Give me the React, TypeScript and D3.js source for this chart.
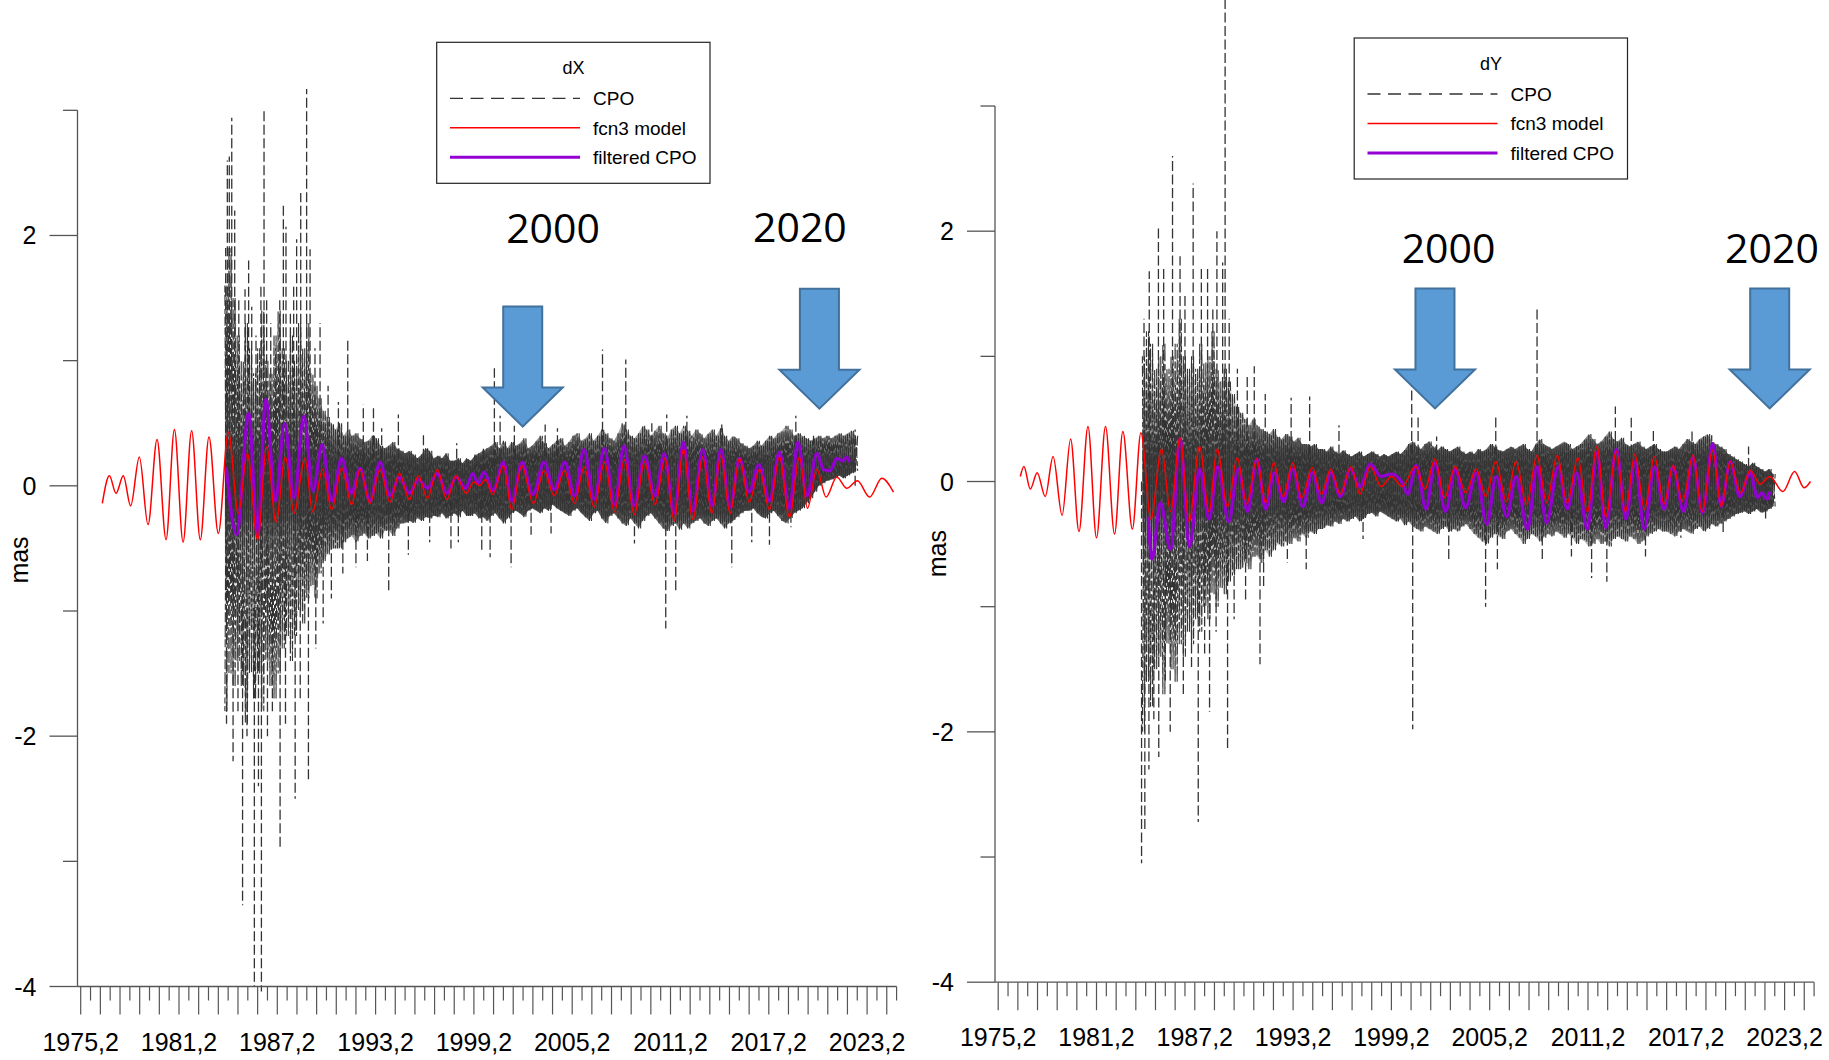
import React from "react";
import * as d3 from "d3";

type Pt = [number, number];

// ---- axis definitions ----
const TICK_START = 1975.2;
const TICK_STEP = 0.6;
const TICK_COUNT = 84;
const xLabelYears = [1975.2, 1981.2, 1987.2, 1993.2, 1999.2, 2005.2, 2011.2, 2017.2, 2023.2];
const yMajorTicks = [-4, -2, 0, 2];
const yMinorTicks = [-3, -1, 1, 3];

// ---- CPO envelope (quarter-year bins from 1984.0) ----
const CPO_START = 1984.0;
const CPO_STEP = 0.25;

const dxUpper = [
  1.6, 1.9, 1.5, 1.2, 1.0, 1.3, 1.1, 0.9, 1.1, 1.4, 1.0, 0.9, 1.2, 1.4, 1.1, 1.0,
  1.2, 1.0, 1.3, 1.1, 1.3, 0.9, 0.8, 0.7, 0.6, 0.55, 0.5, 0.45, 0.5, 0.4, 0.45, 0.4,
  0.42, 0.38, 0.35, 0.36, 0.4, 0.38, 0.32, 0.3, 0.32, 0.35, 0.3, 0.28, 0.26, 0.28, 0.25, 0.22,
  0.25, 0.3, 0.28, 0.22, 0.24, 0.22, 0.26, 0.2, 0.2, 0.22, 0.18, 0.22, 0.2, 0.24, 0.26, 0.28,
  0.3, 0.32, 0.35, 0.3, 0.36, 0.3, 0.35, 0.32, 0.34, 0.38, 0.3, 0.32, 0.36, 0.4, 0.34, 0.3,
  0.33, 0.36, 0.38, 0.32, 0.35, 0.4, 0.42, 0.36, 0.38, 0.42, 0.36, 0.4, 0.45, 0.42, 0.38, 0.36,
  0.42, 0.5, 0.45, 0.4, 0.38, 0.42, 0.48, 0.45, 0.4, 0.44, 0.48, 0.42, 0.38, 0.45, 0.48, 0.42,
  0.48, 0.44, 0.4, 0.45, 0.42, 0.38, 0.42, 0.45, 0.4, 0.46, 0.4, 0.36, 0.4, 0.38, 0.34, 0.32,
  0.3, 0.32, 0.36, 0.32, 0.36, 0.4, 0.38, 0.42, 0.44, 0.48, 0.45, 0.4, 0.42, 0.4, 0.38, 0.36,
  0.38, 0.4, 0.38, 0.4, 0.38, 0.4, 0.42, 0.4, 0.42, 0.44, 0.4,
];
const dxLower = [
  -1.8, -1.5, -1.6, -1.4, -1.6, -1.9, -1.5, -1.7, -1.5, -1.8, -1.4, -1.6, -1.7, -1.5, -1.3, -1.2,
  -1.4, -1.2, -1.0, -1.1, -0.9, -0.8, -0.9, -0.7, -0.6, -0.55, -0.5, -0.5, -0.5, -0.45, -0.42, -0.4,
  -0.45, -0.4, -0.38, -0.42, -0.4, -0.38, -0.42, -0.36, -0.35, -0.4, -0.34, -0.3, -0.3, -0.28, -0.3, -0.26,
  -0.28, -0.25, -0.26, -0.24, -0.25, -0.22, -0.26, -0.24, -0.22, -0.25, -0.2, -0.24, -0.24, -0.22, -0.26, -0.25,
  -0.28, -0.24, -0.22, -0.26, -0.3, -0.26, -0.22, -0.2, -0.22, -0.25, -0.2, -0.18, -0.2, -0.22, -0.18, -0.2,
  -0.15, -0.18, -0.2, -0.22, -0.24, -0.2, -0.18, -0.22, -0.25, -0.28, -0.22, -0.2, -0.26, -0.3, -0.24, -0.22,
  -0.26, -0.3, -0.32, -0.26, -0.3, -0.34, -0.28, -0.24, -0.22, -0.26, -0.3, -0.34, -0.36, -0.32, -0.3, -0.35,
  -0.3, -0.34, -0.3, -0.28, -0.26, -0.3, -0.32, -0.28, -0.26, -0.3, -0.34, -0.3, -0.28, -0.25, -0.22, -0.2,
  -0.2, -0.18, -0.22, -0.25, -0.26, -0.22, -0.2, -0.24, -0.28, -0.3, -0.26, -0.22, -0.2, -0.18, -0.14, -0.1,
  -0.05, 0.0, 0.02, 0.04, 0.05, 0.06, 0.08, 0.06, 0.08, 0.1, 0.12,
];
const dxSpikes: Pt[] = [
  [1984.05, 1.9], [1984.1, -1.9], [1984.15, 2.6], [1984.27, 2.63], [1984.42, 2.94], [1984.5, -2.2],
  [1984.6, 2.2], [1984.8, -1.8], [1984.85, 1.5], [1985.08, -3.35], [1985.23, 1.57], [1985.35, -2.0],
  [1985.45, 1.8], [1985.64, 1.43], [1985.8, -4.0], [1985.9, 1.2], [1986.05, -2.4], [1986.2, 1.6],
  [1986.23, -4.04], [1986.39, 3.02], [1986.55, 1.49], [1986.6, -2.0], [1986.8, 1.3], [1986.9, -1.8],
  [1987.1, 1.1], [1987.35, 1.5], [1987.37, -2.9], [1987.57, 2.26], [1987.7, -1.9], [1987.73, 2.07],
  [1988.0, 1.4], [1988.2, 1.6], [1988.29, -2.5], [1988.38, 1.97], [1988.6, -1.7], [1988.63, 2.34],
  [1988.99, 3.17], [1989.1, -2.35], [1989.2, 1.89], [1989.5, 1.1], [1989.55, -1.3], [1989.81, 1.3],
  [1990.0, -1.1], [1990.3, 0.8], [1990.5, -0.9], [1990.93, 0.67], [1991.2, -0.7], [1991.5, 1.18],
  [1992.0, -0.65], [1992.45, 0.65], [1992.7, -0.6], [1993.07, 0.62], [1993.57, 0.46], [1994.0, -0.85],
  [1994.59, 0.57], [1995.2, -0.55], [1996.12, 0.43], [1996.5, -0.45], [1997.8, -0.5], [1998.15, 0.34],
  [1998.25, -0.45], [1999.27, 0.25], [1999.68, -0.51], [1999.78, 0.31], [2000.19, -0.57], [2000.45, 0.94],
  [2000.8, 0.56], [2001.47, -0.65], [2001.67, 0.48], [2002.69, -0.39], [2003.55, 0.49], [2003.91, -0.38],
  [2004.3, 0.46], [2007.05, 1.09], [2008.47, 1.01], [2009.0, -0.46], [2010.06, 0.5], [2010.91, -1.14],
  [2010.97, 0.57], [2011.52, -0.86], [2012.2, 0.56], [2014.33, 0.49], [2014.94, -0.65], [2016.16, -0.45],
  [2017.24, -0.47], [2018.55, -0.33], [2018.85, 0.56], [2019.93, 0.4], [2022.47, 0.45],
];

// fcn3 model, dX: successive extrema (year, mas)
const dxModel: Pt[] = [
  [1976.52, -0.14], [1976.95, 0.08], [1977.36, -0.06], [1977.8, 0.08], [1978.25, -0.16], [1978.78, 0.23],
  [1979.31, -0.31], [1979.86, 0.37], [1980.41, -0.43], [1980.92, 0.45], [1981.45, -0.45], [1981.97, 0.44],
  [1982.5, -0.43], [1983.03, 0.39], [1983.6, -0.38], [1984.21, 0.43], [1984.82, -0.22], [1985.37, 0.26],
  [1986.0, -0.43], [1986.55, 0.31], [1987.12, -0.29], [1987.69, 0.23], [1988.22, -0.22], [1988.89, 0.22],
  [1989.36, -0.21], [1989.97, 0.13], [1990.52, -0.19], [1991.13, 0.14], [1991.74, -0.15], [1992.25, 0.13],
  [1992.86, -0.14], [1993.47, 0.13], [1994.08, -0.13], [1994.65, 0.1], [1995.26, -0.11], [1995.81, 0.08],
  [1996.36, -0.1], [1996.97, 0.13], [1997.54, -0.11], [1998.11, 0.08], [1998.72, -0.06], [1999.2, 0.03],
  [1999.55, 0.0], [1999.9, 0.05], [2000.35, -0.07], [2001.0, 0.16], [2001.51, -0.19], [2002.12, 0.16],
  [2002.83, -0.14], [2003.48, 0.12], [2004.1, -0.08], [2004.73, 0.12], [2005.34, -0.14], [2005.93, 0.15],
  [2006.54, -0.17], [2007.17, 0.19], [2007.78, -0.21], [2008.39, 0.21], [2008.98, -0.23], [2009.61, 0.19],
  [2010.26, -0.15], [2010.87, 0.22], [2011.42, -0.28], [2011.99, 0.29], [2012.56, -0.27], [2013.17, 0.23],
  [2013.72, -0.22], [2014.27, 0.24], [2014.84, -0.22], [2015.41, 0.22], [2016.0, -0.13], [2016.63, 0.13],
  [2017.24, -0.19], [2017.85, 0.23], [2018.46, -0.25], [2019.07, 0.23], [2019.56, -0.18], [2020.13, 0.13],
  [2020.7, -0.09], [2021.35, 0.07], [2021.96, -0.02], [2022.61, 0.04], [2023.35, -0.09], [2024.1, 0.06],
  [2024.81, -0.05],
];

// filtered CPO, dX
const dxFiltered: Pt[] = [
  [1984.08, 0.15], [1984.72, -0.39], [1985.45, 0.58], [1986.0, -0.4], [1986.5, 0.69], [1987.08, -0.12],
  [1987.65, 0.5], [1988.22, -0.1], [1988.82, 0.56], [1989.38, -0.04], [1989.93, 0.33], [1990.52, -0.12],
  [1991.13, 0.22], [1991.72, -0.06], [1992.25, 0.14], [1992.86, -0.12], [1993.47, 0.19], [1994.08, -0.08],
  [1994.65, 0.07], [1995.26, -0.06], [1995.81, 0.05], [1996.38, -0.02], [1996.97, 0.1], [1997.55, -0.06],
  [1998.13, 0.07], [1998.7, -0.02], [1999.12, 0.1], [1999.45, 0.02], [1999.82, 0.11], [2000.37, -0.04],
  [2001.0, 0.19], [2001.52, -0.12], [2002.14, 0.19], [2002.8, -0.07], [2003.48, 0.19], [2004.1, -0.03],
  [2004.76, 0.19], [2005.34, -0.08], [2005.92, 0.29], [2006.55, -0.11], [2007.16, 0.3], [2007.78, -0.15],
  [2008.36, 0.32], [2008.98, -0.16], [2009.61, 0.24], [2010.26, -0.08], [2010.82, 0.26], [2011.42, -0.22],
  [2011.99, 0.35], [2012.56, -0.2], [2013.17, 0.29], [2013.73, -0.16], [2014.27, 0.29], [2014.84, -0.17],
  [2015.41, 0.22], [2016.0, -0.05], [2016.6, 0.17], [2017.24, -0.12], [2017.85, 0.27], [2018.46, -0.18],
  [2018.97, 0.35], [2019.54, -0.08], [2020.13, 0.26], [2020.55, 0.13], [2020.95, 0.12], [2021.35, 0.22],
  [2021.7, 0.2], [2021.96, 0.23], [2022.12, 0.19],
];

const dyUpper = [
  1.0, 1.2, 1.1, 0.9, 1.0, 1.1, 0.9, 1.0, 1.1, 1.3, 1.0, 0.9, 1.0, 0.9, 1.1, 0.95,
  1.0, 1.2, 0.9, 0.8, 0.9, 0.8, 0.7, 0.6, 0.55, 0.5, 0.45, 0.5, 0.45, 0.42, 0.4, 0.38,
  0.42, 0.36, 0.34, 0.38, 0.36, 0.32, 0.35, 0.3, 0.3, 0.28, 0.3, 0.26, 0.26, 0.24, 0.28, 0.24,
  0.22, 0.25, 0.22, 0.2, 0.22, 0.24, 0.2, 0.22, 0.24, 0.22, 0.2, 0.22, 0.2, 0.22, 0.24, 0.22,
  0.25, 0.3, 0.32, 0.28, 0.26, 0.3, 0.32, 0.28, 0.25, 0.28, 0.26, 0.24, 0.26, 0.28, 0.24, 0.22,
  0.24, 0.22, 0.26, 0.24, 0.26, 0.3, 0.28, 0.25, 0.24, 0.26, 0.28, 0.26, 0.28, 0.3, 0.26, 0.24,
  0.3, 0.34, 0.3, 0.28, 0.26, 0.28, 0.3, 0.32, 0.3, 0.26, 0.28, 0.3, 0.34, 0.38, 0.34, 0.3,
  0.32, 0.36, 0.4, 0.34, 0.32, 0.35, 0.3, 0.28, 0.3, 0.32, 0.28, 0.26, 0.28, 0.3, 0.26, 0.24,
  0.24, 0.26, 0.28, 0.26, 0.3, 0.34, 0.32, 0.3, 0.34, 0.36, 0.38, 0.32, 0.3, 0.28, 0.26, 0.22,
  0.2, 0.18, 0.16, 0.14, 0.12, 0.15, 0.12, 0.1, 0.08, 0.1, 0.06,
];
const dyLower = [
  -2.0, -1.6, -1.8, -1.5, -1.4, -1.7, -1.3, -1.5, -1.6, -1.3, -1.4, -1.2, -1.3, -1.1, -1.2, -1.0,
  -1.1, -0.9, -1.0, -0.85, -0.9, -0.8, -0.75, -0.7, -0.7, -0.65, -0.7, -0.6, -0.6, -0.65, -0.55, -0.6,
  -0.55, -0.5, -0.52, -0.48, -0.5, -0.45, -0.48, -0.42, -0.45, -0.4, -0.42, -0.38, -0.38, -0.35, -0.36, -0.32,
  -0.34, -0.3, -0.32, -0.3, -0.28, -0.32, -0.3, -0.26, -0.25, -0.28, -0.24, -0.26, -0.28, -0.3, -0.32, -0.3,
  -0.35, -0.32, -0.36, -0.38, -0.4, -0.36, -0.38, -0.4, -0.42, -0.38, -0.36, -0.4, -0.38, -0.4, -0.36, -0.34,
  -0.38, -0.42, -0.45, -0.48, -0.5, -0.45, -0.42, -0.44, -0.46, -0.4, -0.38, -0.42, -0.45, -0.5, -0.46, -0.42,
  -0.44, -0.48, -0.45, -0.42, -0.44, -0.4, -0.42, -0.45, -0.42, -0.45, -0.5, -0.46, -0.48, -0.52, -0.5, -0.46,
  -0.5, -0.48, -0.52, -0.46, -0.44, -0.46, -0.48, -0.44, -0.46, -0.5, -0.48, -0.44, -0.42, -0.4, -0.38, -0.4,
  -0.4, -0.42, -0.44, -0.4, -0.38, -0.4, -0.42, -0.38, -0.36, -0.4, -0.38, -0.34, -0.36, -0.34, -0.32, -0.3,
  -0.28, -0.26, -0.25, -0.24, -0.26, -0.24, -0.22, -0.25, -0.24, -0.22, -0.2,
];
const dySpikes: Pt[] = [
  [1983.95, -3.05], [1984.1, 1.3], [1984.15, -2.8], [1984.4, -2.3], [1984.42, 1.68], [1984.7, -1.9],
  [1984.98, 2.03], [1985.0, -2.2], [1985.3, 1.7], [1985.4, -1.6], [1985.7, -2.0], [1985.84, 2.6],
  [1986.0, -1.3], [1986.3, 1.8], [1986.5, -1.7], [1986.6, 1.5], [1987.0, -1.5], [1987.1, 2.38],
  [1987.41, -2.72], [1987.6, 1.7], [1987.8, -1.4], [1987.98, 1.7], [1988.1, -1.84], [1988.3, 1.4],
  [1988.5, -1.2], [1988.55, 2.0], [1988.9, 1.75], [1989.05, 3.85], [1989.2, -2.15], [1989.3, 1.3],
  [1989.6, -1.1], [1989.8, 0.9], [1990.3, -0.95], [1990.4, 0.85], [1990.83, 0.92], [1991.18, -1.46],
  [1991.4, -0.86], [1991.5, 0.7], [1992.85, -0.65], [1993.08, 0.67], [1994.0, -0.7], [1994.21, 0.68],
  [1996.0, 0.45], [1997.47, -0.46], [2000.44, 0.79], [2000.5, -1.98], [2000.83, 0.52], [2001.96, 0.36],
  [2002.7, -0.64], [2004.95, -1.0], [2005.57, 0.54], [2005.67, -0.7], [2008.09, 1.38], [2008.41, -0.62],
  [2010.19, -0.6], [2011.42, -0.77], [2012.35, -0.8], [2012.87, 0.6], [2013.84, 0.51], [2014.71, -0.6],
  [2015.19, 0.43], [2016.87, -0.45], [2017.55, 0.4], [2018.75, 0.37], [2019.45, -0.41], [2021.0, 0.28],
  [2022.04, -0.32],
];

// fcn3 model, dY
const dyModel: Pt[] = [
  [1976.55, 0.04], [1976.77, 0.12], [1977.16, -0.06], [1977.58, 0.07], [1978.07, -0.12], [1978.55, 0.2],
  [1979.1, -0.27], [1979.62, 0.34], [1980.13, -0.4], [1980.68, 0.44], [1981.2, -0.45], [1981.75, 0.44],
  [1982.3, -0.42], [1982.81, 0.4], [1983.39, -0.38], [1983.91, 0.39], [1984.52, -0.3], [1985.17, 0.26],
  [1985.72, -0.24], [1986.3, 0.35], [1986.85, -0.32], [1987.49, 0.28], [1988.07, -0.24], [1988.56, 0.26],
  [1989.2, -0.2], [1989.79, 0.19], [1990.37, -0.18], [1990.98, 0.18], [1991.53, -0.17], [1992.01, 0.15],
  [1992.59, -0.12], [1993.18, 0.15], [1993.72, -0.13], [1994.37, 0.11], [1994.92, -0.1], [1995.5, 0.1],
  [1996.08, -0.1], [1996.73, 0.12], [1997.28, -0.1], [1997.92, 0.12], [1998.57, -0.04], [1999.21, 0.04],
  [1999.86, -0.04], [2000.67, 0.12], [2001.25, -0.06], [2001.86, 0.18], [2002.44, -0.13], [2003.09, 0.12],
  [2003.73, -0.09], [2004.38, 0.1], [2004.96, -0.12], [2005.57, 0.16], [2006.22, -0.16], [2006.8, 0.16],
  [2007.45, -0.18], [2008.09, 0.21], [2008.67, -0.17], [2009.32, 0.21], [2009.93, -0.17], [2010.58, 0.19],
  [2011.16, -0.24], [2011.74, 0.28], [2012.29, -0.28], [2012.93, 0.24], [2013.48, -0.24], [2014.06, 0.22],
  [2014.64, -0.22], [2015.26, 0.2], [2015.84, -0.18], [2016.39, 0.13], [2016.97, -0.16], [2017.61, 0.21],
  [2018.16, -0.24], [2018.81, 0.25], [2019.33, -0.2], [2019.88, 0.16], [2020.52, -0.09], [2021.1, 0.09],
  [2021.71, -0.02], [2022.3, 0.04], [2023.1, -0.08], [2023.81, 0.08], [2024.39, -0.05], [2024.78, 0.0],
];

// filtered CPO, dY
const dyFiltered: Pt[] = [
  [1984.36, -0.28], [1984.59, -0.62], [1985.1, -0.17], [1985.72, -0.54], [1986.3, 0.34], [1986.88, -0.52],
  [1987.49, 0.1], [1988.07, -0.3], [1988.6, 0.12], [1989.27, -0.32], [1989.85, 0.1], [1990.43, -0.24],
  [1990.98, 0.18], [1991.53, -0.22], [1992.05, 0.07], [1992.62, -0.16], [1993.18, 0.1], [1993.79, -0.2],
  [1994.37, 0.07], [1994.95, -0.17], [1995.5, 0.07], [1996.08, -0.12], [1996.7, 0.1], [1997.28, -0.04],
  [1997.92, 0.14], [1998.57, 0.04], [1999.21, 0.06], [1999.86, -0.01], [2000.2, -0.1], [2000.72, 0.13],
  [2001.31, -0.22], [2001.86, 0.15], [2002.51, -0.24], [2003.09, 0.1], [2003.73, -0.21], [2004.38, 0.07],
  [2005.02, -0.34], [2005.6, 0.04], [2006.25, -0.28], [2006.8, 0.04], [2007.51, -0.38], [2008.09, 0.12],
  [2008.67, -0.33], [2009.38, 0.12], [2009.93, -0.22], [2010.51, 0.07], [2011.16, -0.38], [2011.74, 0.23],
  [2012.29, -0.37], [2012.93, 0.26], [2013.51, -0.3], [2014.06, 0.16], [2014.64, -0.38], [2015.26, 0.12],
  [2015.84, -0.22], [2016.39, 0.12], [2017.03, -0.24], [2017.61, 0.19], [2018.19, -0.25], [2018.81, 0.3],
  [2019.33, -0.2], [2019.88, 0.16], [2020.46, -0.12], [2021.1, 0.07], [2021.55, -0.13], [2021.81, -0.09],
  [2022.13, -0.14], [2022.3, -0.08],
];

// ---- styling ----
const CPO_COLOR = "#333333";
const MODEL_COLOR = "#ff0000";
const FILTER_COLOR = "#9400d3";
const AXIS_COLOR = "#555555";
const ARROW_FILL = "#5b9bd5";
const ARROW_STROKE = "#41719c";
const FONT = "'Liberation Sans', Arial, Helvetica, sans-serif";
const CPO_DASH_A = "7,2.3,11,3.1,5,2.7,9,2.2";
const CPO_DASH_B = "10,2.6,6,3.3,8,2.1,12,2.9";

// panel scales (both panels share the same frame)
const x = d3
  .scaleLinear()
  .domain([TICK_START, TICK_START + TICK_STEP * (TICK_COUNT - 1)])
  .range([80.7, 80.7 + 9.83 * (TICK_COUNT - 1)]);
const y = d3.scaleLinear().domain([-4, 3]).range([986.5, 986.5 - 7 * 125.17]);
const AXIS_X = 77.5;

const lineGen = d3
  .line<Pt>()
  .x((d) => x(d[0]))
  .y((d) => y(d[1]));
const smoothGen = d3
  .line<Pt>()
  .x((d) => x(d[0]))
  .y((d) => y(d[1]))
  .curve(d3.curveMonotoneX);

type Band = { t: number; hi: number; lo: number };

interface Note {
  text: string;
  at: Pt; // label centre/baseline in data units
  tip: Pt; // arrow tip in data units
}

interface PanelProps {
  title: string;
  upper: number[];
  lower: number[];
  spikes: Pt[];
  model: Pt[];
  filtered: Pt[];
  notes: Note[];
  masY: number;
}

function Arrow({ tip }: { tip: Pt }) {
  const tx = x(tip[0]);
  const ty = y(tip[1]);
  const pts: Pt[] = [
    [tx - 19.5, ty - 120],
    [tx + 19.5, ty - 120],
    [tx + 19.5, ty - 39],
    [tx + 40, ty - 39],
    [tx, ty],
    [tx - 40, ty - 39],
    [tx - 19.5, ty - 39],
  ];
  return (
    <polygon
      points={pts.map((p) => p.join(",")).join(" ")}
      fill={ARROW_FILL}
      stroke={ARROW_STROKE}
      strokeWidth={2}
    />
  );
}

function Panel({ title, upper, lower, spikes, model, filtered, notes, masY }: PanelProps) {
  const band: Band[] = upper.map((u, i) => ({ t: CPO_START + i * CPO_STEP, hi: u, lo: lower[i] }));
  const areaGen = d3
    .area<Band>()
    .x((d) => x(d.t))
    .y0((d) => y(d.lo))
    .y1((d) => y(d.hi));
  // two interleaved traverses of each bin: top-to-bottom and bottom-to-top
  const zigDown: Pt[] = band.flatMap((b) => [
    [b.t, b.hi] as Pt,
    [b.t + CPO_STEP / 2, b.lo] as Pt,
  ]);
  const zigUp: Pt[] = band.flatMap((b) => [
    [b.t, b.lo] as Pt,
    [b.t + CPO_STEP / 2, b.hi] as Pt,
  ]);

  const ticks = d3.range(TICK_COUNT).map((k) => ({ v: TICK_START + k * TICK_STEP, long: k % 2 === 0 }));
  const y0 = y(-4);

  // legend geometry
  const lx = 436.7;
  const ly = 42.3;
  const rows = [
    { label: "CPO", color: CPO_COLOR, width: 1.3, dash: "13,7.5" },
    { label: "fcn3 model", color: MODEL_COLOR, width: 1.4, dash: undefined },
    { label: "filtered CPO", color: FILTER_COLOR, width: 3, dash: undefined },
  ];

  return (
    <g fontFamily={FONT}>
      {/* CPO series: dark core, dashed traverses between the envelope values and isolated outliers */}
      <path d={areaGen(band) ?? ""} fill="url(#coreGrad)" />
      <path d={lineGen(zigDown) ?? ""} fill="none" stroke={CPO_COLOR} strokeWidth={1.1} strokeDasharray={CPO_DASH_A} />
      <path
        d={lineGen(zigUp) ?? ""}
        fill="none"
        stroke={CPO_COLOR}
        strokeWidth={1.1}
        strokeDasharray={CPO_DASH_B}
        strokeDashoffset={5}
      />
      {spikes.map((s, i) => (
        <path
          key={i}
          d={lineGen([[s[0], 0], s]) ?? ""}
          fill="none"
          stroke={CPO_COLOR}
          strokeWidth={1.3}
          strokeDasharray="10,3.5"
        />
      ))}

      {/* filtered CPO and model */}
      <path d={smoothGen(filtered) ?? ""} fill="none" stroke={FILTER_COLOR} strokeWidth={3.2} strokeLinejoin="round" />
      <path d={smoothGen(model) ?? ""} fill="none" stroke={MODEL_COLOR} strokeWidth={1.5} />

      {/* y axis */}
      <line x1={AXIS_X} x2={AXIS_X} y1={y(3)} y2={y0} stroke={AXIS_COLOR} strokeWidth={1.3} />
      {yMajorTicks.map((v) => (
        <g key={"M" + v}>
          <line x1={AXIS_X - 28} x2={AXIS_X} y1={y(v)} y2={y(v)} stroke={AXIS_COLOR} strokeWidth={1.3} />
          <text x={36.5} y={y(v)} dy="0.36em" textAnchor="end" fontSize={25} fill="#000">
            {v < 0 ? "-" + Math.abs(v) : String(v)}
          </text>
        </g>
      ))}
      {yMinorTicks.map((v) => (
        <line key={"m" + v} x1={AXIS_X - 14.5} x2={AXIS_X} y1={y(v)} y2={y(v)} stroke={AXIS_COLOR} strokeWidth={1.3} />
      ))}
      <text transform={`translate(28,${masY}) rotate(-90)`} textAnchor="middle" fontSize={25} fill="#000">
        mas
      </text>

      {/* x axis */}
      <line x1={AXIS_X} x2={x(ticks[ticks.length - 1].v)} y1={y0} y2={y0} stroke={AXIS_COLOR} strokeWidth={1.3} />
      {ticks.map((tk, i) => (
        <line
          key={i}
          x1={x(tk.v)}
          x2={x(tk.v)}
          y1={y0}
          y2={y0 + (tk.long ? 28 : 14)}
          stroke={AXIS_COLOR}
          strokeWidth={1.2}
        />
      ))}
      {xLabelYears.map((v) => (
        <text key={v} x={x(v)} y={y0 + 64} textAnchor="middle" fontSize={25} fill="#000">
          {v.toFixed(1).replace(".", ",")}
        </text>
      ))}

      {/* legend */}
      <rect x={lx} y={ly} width={273.3} height={141} fill="#fff" stroke="#222" strokeWidth={1.2} />
      <text x={lx + 136.7} y={ly + 32} textAnchor="middle" fontSize={18} fill="#000">
        {title}
      </text>
      {rows.map((r, i) => {
        const ry = ly + 56 + i * 29.5;
        return (
          <g key={r.label}>
            <line
              x1={lx + 13.3}
              x2={lx + 143.3}
              y1={ry}
              y2={ry}
              stroke={r.color}
              strokeWidth={r.width}
              strokeDasharray={r.dash}
            />
            <text x={lx + 156.3} y={ry + 6.8} fontSize={19} fill="#000">
              {r.label}
            </text>
          </g>
        );
      })}

      {/* year annotations */}
      {notes.map((n) => (
        <g key={n.text}>
          <Arrow tip={n.tip} />
          <text
            x={x(n.at[0])}
            y={y(n.at[1])}
            textAnchor="middle"
            fontSize={41}
            fontFamily="'Open Sans', 'Noto Sans', sans-serif"
            fill="#000"
          >
            {n.text}
          </text>
        </g>
      ))}
    </g>
  );
}

export default function App() {
  return (
    <svg
      width={1829}
      height={1060}
      viewBox="0 0 1829 1060"
      style={{ position: "absolute", left: 0, top: 0, background: "#fff" }}
    >
      <defs>
        <linearGradient id="coreGrad" gradientUnits="userSpaceOnUse" x1={0} x2={0} y1={y(0.9)} y2={y(-0.9)}>
          <stop offset="0" stopColor="#333" stopOpacity={0} />
          <stop offset="0.25" stopColor="#333" stopOpacity={0.4} />
          <stop offset="0.38" stopColor="#333" stopOpacity={0.85} />
          <stop offset="0.5" stopColor="#333" stopOpacity={0.9} />
          <stop offset="0.62" stopColor="#333" stopOpacity={0.85} />
          <stop offset="0.75" stopColor="#333" stopOpacity={0.4} />
          <stop offset="1" stopColor="#333" stopOpacity={0} />
        </linearGradient>
      </defs>
      <rect width={1829} height={1060} fill="#fff" />
      <Panel
        title="dX"
        upper={dxUpper}
        lower={dxLower}
        spikes={dxSpikes}
        model={dxModel}
        filtered={dxFiltered}
        masY={560}
        notes={[
          { text: "2000", at: [2004.03, 1.94], tip: [2002.18, 0.474] },
          { text: "2020", at: [2019.1, 1.945], tip: [2020.29, 0.616] },
        ]}
      />
      <g transform="translate(917.5,-4.3)">
        <Panel
          title="dY"
          upper={dyUpper}
          lower={dyLower}
          spikes={dySpikes}
          model={dyModel}
          filtered={dyFiltered}
          masY={558}
          notes={[
            { text: "2000", at: [2002.69, 1.749], tip: [2001.86, 0.584] },
            { text: "2020", at: [2022.43, 1.749], tip: [2022.29, 0.584] },
          ]}
        />
      </g>
    </svg>
  );
}
